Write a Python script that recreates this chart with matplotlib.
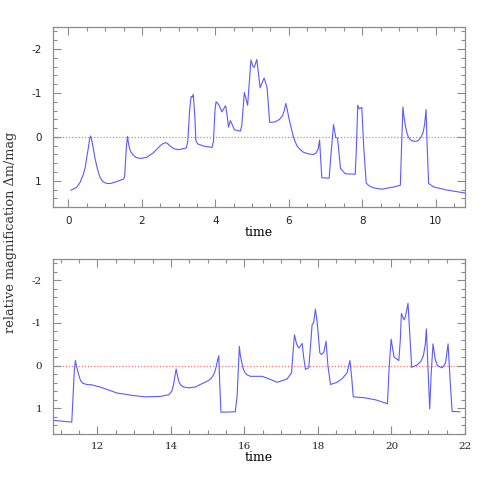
import numpy as np
import matplotlib
matplotlib.use("Agg")
from matplotlib import pyplot as plt
from matplotlib.ticker import MultipleLocator, FixedLocator, FixedFormatter

# light curve, first half (time, relative magnification)
t_top = [0.07, 0.15, 0.23, 0.32, 0.41, 0.46, 0.50, 0.54, 0.57, 0.60,
         0.62, 0.65, 0.68, 0.72, 0.77, 0.82, 0.86, 0.92, 0.98, 1.05,
         1.15, 1.30, 1.50, 1.53, 1.58, 1.61, 1.63, 1.66, 1.70, 1.77,
         1.85, 1.95, 2.05, 2.14, 2.30, 2.41, 2.50, 2.58, 2.65, 2.71,
         2.77, 2.88, 3.00, 3.12, 3.21, 3.25, 3.30, 3.34, 3.37, 3.40,
         3.44, 3.47, 3.52, 3.68, 3.91, 3.95, 3.99, 4.02, 4.09, 4.18,
         4.28, 4.32, 4.36, 4.41, 4.45, 4.52, 4.68, 4.72, 4.79, 4.84,
         4.88, 4.97, 5.02, 5.06, 5.13, 5.22, 5.33, 5.41, 5.48, 5.63,
         5.75, 5.83, 5.88, 5.92, 5.96, 6.00, 6.07, 6.13, 6.22, 6.30,
         6.40, 6.55, 6.68, 6.75, 6.80, 6.84, 6.87, 6.90, 7.10, 7.15,
         7.22, 7.28, 7.33, 7.41, 7.54, 7.81, 7.84, 7.88, 7.92, 7.99,
         8.04, 8.11, 8.18, 8.31, 8.45, 8.54, 8.86, 9.04, 9.07, 9.11,
         9.14, 9.17, 9.21, 9.26, 9.32, 9.40, 9.48, 9.54, 9.60, 9.66,
         9.70, 9.74, 9.77, 9.81, 9.95, 10.31, 10.82]
m_top = [1.21, 1.18, 1.14, 1.03, 0.84, 0.68, 0.46, 0.26, 0.08, -0.02,
         0.02, 0.14, 0.28, 0.47, 0.66, 0.82, 0.92, 1.00, 1.04, 1.06,
         1.06, 1.02, 0.96, 0.90, 0.20, -0.01, 0.12, 0.25, 0.34, 0.42,
         0.47, 0.49, 0.48, 0.46, 0.37, 0.28, 0.20, 0.15, 0.13, 0.16,
         0.21, 0.27, 0.29, 0.27, 0.25, 0.10, -0.60, -0.92, -0.90, -0.97,
         -0.50, 0.08, 0.16, 0.21, 0.24, 0.10, -0.60, -0.80, -0.74, -0.57,
         -0.71, -0.50, -0.22, -0.37, -0.30, -0.16, -0.13, -0.25, -1.01, -0.85,
         -0.72, -1.75, -1.62, -1.58, -1.76, -1.12, -1.34, -1.12, -0.33, -0.34,
         -0.40, -0.48, -0.60, -0.76, -0.62, -0.44, -0.20, 0.01, 0.20, 0.28,
         0.35, 0.39, 0.40, 0.36, 0.28, 0.07, 0.50, 0.93, 0.94, 0.40,
         -0.28, 0.01, 0.03, 0.72, 0.84, 0.85, 0.30, -0.72, -0.64, -0.67,
         0.20, 1.05, 1.11, 1.16, 1.18, 1.19, 1.14, 1.10, 0.30, -0.68,
         -0.45, -0.29, -0.12, 0.01, 0.07, 0.10, 0.10, 0.07, 0.01, -0.10,
         -0.28, -0.62, 0.20, 1.06, 1.14, 1.21, 1.28]

# light curve, second half
t_bot = [10.80, 11.30, 11.33, 11.37, 11.40, 11.43, 11.46, 11.50, 11.54, 11.60,
         11.70, 11.85, 12.07, 12.30, 12.53, 12.98, 13.30, 13.71, 13.94, 14.02,
         14.07, 14.10, 14.14, 14.18, 14.22, 14.27, 14.35, 14.48, 14.66, 14.80,
         15.02, 15.10, 15.16, 15.20, 15.23, 15.27, 15.30, 15.33, 15.36, 15.75,
         15.80, 15.86, 15.89, 15.93, 15.97, 16.02, 16.08, 16.16, 16.48, 16.70,
         16.89, 17.16, 17.28, 17.32, 17.36, 17.42, 17.48, 17.57, 17.61, 17.66,
         17.75, 17.80, 17.84, 17.88, 17.93, 17.98, 18.05, 18.10, 18.16, 18.22,
         18.27, 18.34, 18.52, 18.66, 18.79, 18.87, 18.92, 18.96, 19.25, 19.57,
         19.89, 19.94, 19.99, 20.07, 20.20, 20.24, 20.27, 20.34, 20.38, 20.45,
         20.50, 20.55, 20.70, 20.80, 20.87, 20.92, 20.95, 21.00, 21.04, 21.08,
         21.13, 21.19, 21.25, 21.38, 21.47, 21.54, 21.60, 21.65, 21.86]
m_bot = [1.28, 1.32, 0.80, 0.10, -0.12, 0.02, 0.12, 0.25, 0.35, 0.41,
         0.44, 0.45, 0.50, 0.57, 0.64, 0.70, 0.73, 0.72, 0.68, 0.60,
         0.45, 0.28, 0.08, 0.25, 0.39, 0.46, 0.50, 0.52, 0.50, 0.44,
         0.35, 0.29, 0.21, 0.12, 0.02, -0.13, -0.23, 0.50, 1.09, 1.08,
         0.70, -0.45, -0.22, -0.06, 0.08, 0.17, 0.22, 0.25, 0.25, 0.32,
         0.39, 0.31, 0.17, -0.30, -0.72, -0.50, -0.41, -0.52, -0.20, 0.09,
         0.05, -0.50, -0.96, -1.00, -1.32, -1.00, -0.30, -0.26, -0.32, -0.57,
         0.00, 0.44, 0.39, 0.30, 0.17, -0.12, 0.30, 0.73, 0.75, 0.80,
         0.89, 0.00, -0.62, -0.20, -0.12, -0.60, -1.22, -1.07, -1.15, -1.46,
         -0.70, 0.04, -0.02, -0.10, -0.24, -0.50, -0.86, 0.20, 1.01, 0.20,
         -0.51, -0.15, 0.00, 0.05, -0.06, -0.51, 0.40, 1.07, 1.08]

ytick_vals = [-2, -1, 0, 1]
ytick_labels = ["-2", "-1", "0", "1"]

frame_col = "#8c8c8c"
line_col = "#5a5aff"
ref_col = "#ff7070"

fig = plt.figure(figsize=(4.91, 4.91), dpi=100)
ax1 = fig.add_axes([0.108, 0.578, 0.839, 0.367])
ax2 = fig.add_axes([0.108, 0.116, 0.839, 0.357])


def style(ax, xlim, xmaj, family):
    ax.set_xlim(*xlim)
    ax.set_ylim(1.6, -2.5)
    ax.axhline(0, color=ref_col, lw=0.9, ls=(0, (1, 1.5)), zorder=1)
    ax.xaxis.set_major_locator(MultipleLocator(xmaj))
    ax.xaxis.set_minor_locator(MultipleLocator(0.5))
    ax.yaxis.set_major_locator(FixedLocator(ytick_vals))
    ax.yaxis.set_major_formatter(FixedFormatter(ytick_labels))
    ax.yaxis.set_minor_locator(MultipleLocator(0.2))
    ax.tick_params(which="both", direction="in", top=True, right=True,
                   color=frame_col, width=0.8)
    ax.tick_params(which="major", length=6)
    ax.tick_params(which="minor", length=3)
    ax.tick_params(axis="x", pad=6)
    ax.tick_params(axis="y", pad=8)
    for lab in ax.get_xticklabels() + ax.get_yticklabels():
        lab.set_family(family)
        lab.set_fontsize(7.5)
        lab.set_color("#222222")
    for sp in ax.spines.values():
        sp.set_color(frame_col)
        sp.set_linewidth(0.9)
    ax.set_xlabel("time", family="DejaVu Serif", fontsize=9, labelpad=0)


ax1.plot(t_top, m_top, color=line_col, lw=0.8, zorder=2)
style(ax1, (-0.42, 10.8), 2, "DejaVu Sans")

ax2.plot(t_bot, m_bot, color=line_col, lw=0.8, zorder=2)
style(ax2, (10.79, 22.0), 2, "DejaVu Serif")

fig.text(0.022, 0.527, "relative magnification \u0394m/mag", rotation=90,
         ha="center", va="center", family="DejaVu Serif", fontsize=9.3,
         color="#333333")

fig.savefig("out.png", dpi=100)
